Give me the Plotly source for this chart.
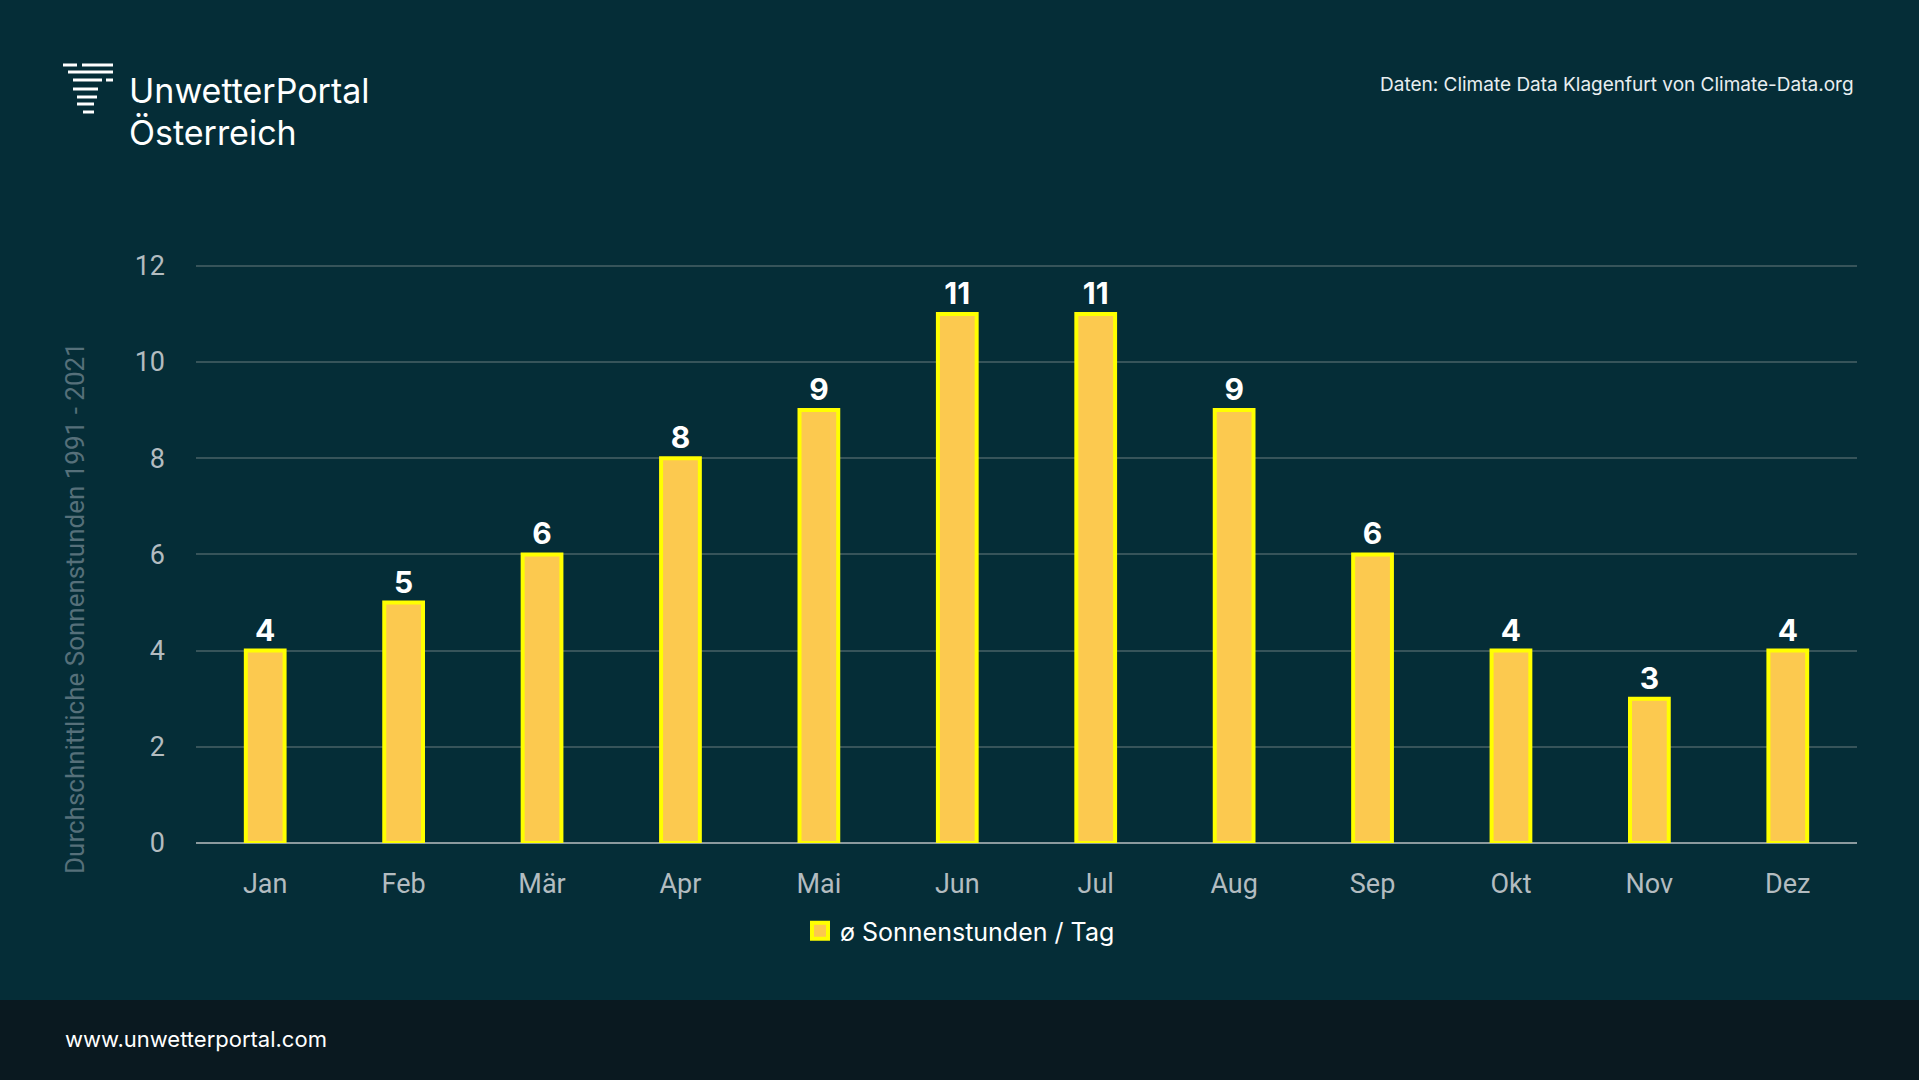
import plotly.graph_objects as go

months = ["Jan", "Feb", "Mär", "Apr", "Mai", "Jun", "Jul", "Aug", "Sep", "Okt", "Nov", "Dez"]
sun_hours = [4, 5, 6, 8, 9, 11, 11, 9, 6, 4, 3, 4]
series_name = "ø Sonnenstunden / Tag"
y_ticks = [0, 2, 4, 6, 8, 10, 12]

W, H = 1919, 1080
L, R, T, B = 196, 1857, 261, 843
PW, PH = R - L, B - T

def px(x):
    return (x - L) / PW

def py(y):
    return (B - y) / PH

BG = "#052d37"
FOOT = "#0a1920"
FILL = "#fcc94f"
EDGE = "#ffff00"

fig = go.Figure()
fig.add_trace(go.Bar(
    x=months, y=sun_hours, name=series_name,
    marker=dict(color=FILL, line=dict(color=EDGE, width=4)),
    text=sun_hours, textposition="outside", cliponaxis=False,
    textfont=dict(family="Inter, Roboto, sans-serif", size=30, color="#ffffff", weight="bold"),
    showlegend=False,
))
# legend entry
fig.add_trace(go.Scatter(
    x=[None], y=[None], mode="markers", name=series_name,
    marker=dict(symbol="square", size=19, color=FILL, line=dict(color=EDGE, width=4)),
    showlegend=True,
))

shapes = [
    dict(type="rect", xref="paper", yref="paper", x0=px(-10), x1=px(W + 10), y0=py(1000), y1=py(1090),
         fillcolor=FOOT, line=dict(width=0), layer="below"),
]
logo_lines = [
    (63, 77, 65), (82, 113, 65),
    (68, 113, 72),
    (73, 102, 80), (106, 113, 80),
    (73, 98, 89),
    (77, 97, 97),
    (77, 94, 104),
    (83, 94, 112),
]
for x0, x1, yy in logo_lines:
    shapes.append(dict(type="line", xref="paper", yref="paper", x0=px(x0), x1=px(x1), y0=py(yy), y1=py(yy),
                       line=dict(color="#ffffff", width=3)))

annotations = [
    dict(text="UnwetterPortal", x=px(127), y=py(91), xref="paper", yref="paper", xanchor="left", yanchor="middle",
         showarrow=False, font=dict(family="Inter, sans-serif", size=34, color="#ffffff")),
    dict(text="Österreich", x=px(127), y=py(133), xref="paper", yref="paper", xanchor="left", yanchor="middle",
         showarrow=False, font=dict(family="Inter, sans-serif", size=34, color="#ffffff")),
    dict(text="Daten: Climate Data Klagenfurt von Climate-Data.org", x=px(1856), y=py(85), xref="paper", yref="paper",
         xanchor="right", yanchor="middle", showarrow=False,
         font=dict(family="Inter, sans-serif", size=19, color="#e8eef0")),
    dict(text="www.unwetterportal.com", x=px(63), y=py(1039), xref="paper", yref="paper",
         xanchor="left", yanchor="middle", showarrow=False,
         font=dict(family="Inter, sans-serif", size=22, color="#ffffff")),
    dict(text="Durchschnittliche Sonnenstunden 1991 - 2021", x=px(75), y=py(608), xref="paper", yref="paper",
         xanchor="center", yanchor="middle", textangle=-90, showarrow=False,
         font=dict(family="Roboto, sans-serif", size=26, color="#56707a")),
]

fig.update_layout(
    width=W, height=H,
    margin=dict(l=L, r=W - R, t=T, b=H - B, pad=0),
    paper_bgcolor=BG, plot_bgcolor=BG,
    bargap=0.72,
    shapes=shapes,
    annotations=annotations,
    legend=dict(orientation="h", x=px(960), y=py(931), xanchor="center", yanchor="middle",
                font=dict(family="Inter, Roboto, sans-serif", size=25, color="#ffffff"),
                bgcolor="rgba(0,0,0,0)", itemsizing="trace"),
    xaxis=dict(
        showgrid=False, showline=False, zeroline=False,
        tickfont=dict(family="Roboto, sans-serif", size=27, color="#b3bcc0"),
        ticks="", ticklabelstandoff=22,
    ),
    yaxis=dict(
        range=[0, 12.1], tickvals=y_ticks, showgrid=True, gridcolor="#37545a", gridwidth=2,
        zeroline=True, zerolinecolor="#8c9a9e", zerolinewidth=2,
        tickfont=dict(family="Roboto, sans-serif", size=27, color="#b3bcc0"),
        ticks="", ticklabelstandoff=30,
    ),
)

fig.write_html(
    "out.html",
    config={"displayModeBar": False},
    post_script="document.body.style.margin='0';document.body.style.background='" + BG + "';",
)
